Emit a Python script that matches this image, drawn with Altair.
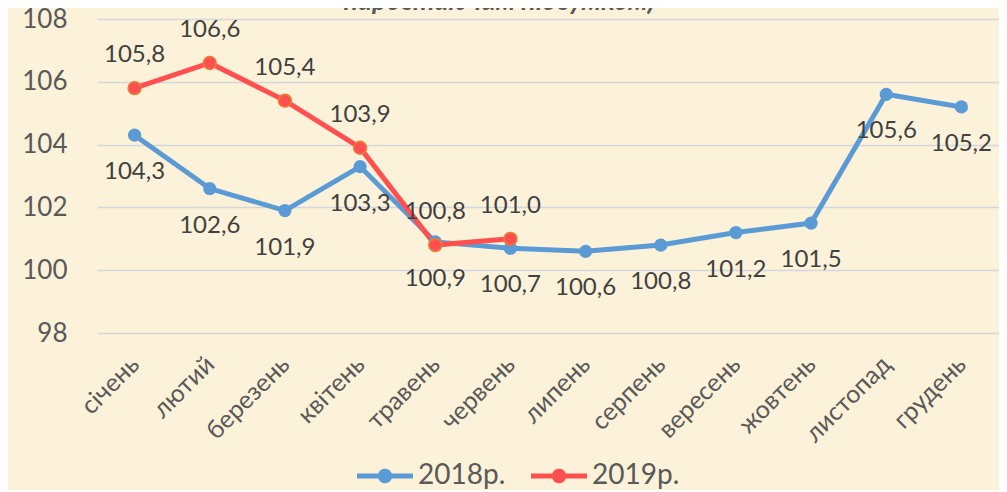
import math
import altair as alt
import pandas as pd

months = ["січень", "лютий", "березень", "квітень", "травень", "червень",
          "липень", "серпень", "вересень", "жовтень", "листопад", "грудень"]
v2018 = [104.3, 102.6, 101.9, 103.3, 100.9, 100.7, 100.6, 100.8, 101.2, 101.5, 105.6, 105.2]
v2019 = [105.8, 106.6, 105.4, 103.9, 100.8, 101.0]
series = ["2018р.", "2019р."]
colors = ["#5B9BD5", "#FF4F4F"]
y_ticks = [98, 100, 102, 104, 106, 108]
title_text = "наростаючим підсумком)"

rows = []
for s, vals in zip(series, [v2018, v2019]):
    for m, v in zip(months, vals):
        rows.append({"month": m, "value": v, "series": s,
                     "label": f"{v:.1f}".replace(".", ",")})
df = pd.DataFrame(rows)

FONT = "Lato"

# legend symbol: a thick line with a dot in the middle (unit coordinates)
r = 0.26
poly = "".join(
    ("M" if i == 0 else "L") + f"{r*math.cos(2*math.pi*i/20):.3f},{r*math.sin(2*math.pi*i/20):.3f}"
    for i in range(20)) + "Z"
legend_path = "M-1,-0.09L1,-0.09L1,0.09L-1,0.09Z" + poly

x = alt.X("month:N", sort=months,
          scale=alt.Scale(type="point", padding=0.5),
          axis=alt.Axis(title=None, labelAngle=-45, labelAlign="right",
                        labelBaseline="middle", labelFontSize=25,
                        labelColor="#595959", labelPadding=27, labelFont=FONT,
                        domain=False, ticks=False, grid=False))
y = alt.Y("value:Q",
          scale=alt.Scale(domain=[98, 108], nice=False, zero=False),
          axis=alt.Axis(title=None, values=y_ticks, grid=True,
                        gridColor="#D3D6DC", gridWidth=1.5, domain=False,
                        ticks=False, labelFontSize=26, labelColor="#595959",
                        labelPadding=30, labelFont=FONT))

base = alt.Chart(df)

color_scale = alt.Scale(domain=series, range=colors)

lines = base.mark_line(strokeWidth=5).encode(
    x=x, y=y,
    color=alt.Color("series:N", scale=color_scale,
                    legend=alt.Legend(title=None, orient="none", direction="horizontal",
                                      legendX=260, legendY=429,
                                      symbolType=legend_path, symbolSize=3136,
                                      symbolStrokeWidth=0,
                                      symbolFillColor="#5B9BD5",
                                      labelFontSize=28, labelColor="#595959",
                                      labelFont=FONT, labelOffset=5,
                                      columnPadding=25, padding=0)))

points = base.mark_point(filled=True, size=175, opacity=1).encode(
    x=x, y=y, color=alt.Color("series:N", scale=color_scale))

outline = base.transform_filter(alt.datum.series == series[1]).mark_point(
    filled=False, size=165, stroke="#ED7D31", strokeWidth=1.5, opacity=1
).encode(x=x, y=y)

lab18 = base.transform_filter(alt.datum.series == series[0]).mark_text(
    dy=37, fontSize=24, color="#404040", font=FONT
).encode(x=x, y=y, text="label:N")

lab19 = base.transform_filter(alt.datum.series == series[1]).mark_text(
    dy=-33, fontSize=24, color="#404040", font=FONT
).encode(x=x, y=y, text="label:N")

title = alt.Chart(pd.DataFrame({"t": [title_text]})).mark_text(
    fontSize=27, fontStyle="italic", fontWeight="bold", color="#595959",
    font=FONT, baseline="alphabetic", align="center"
).encode(x=alt.value(402), y=alt.value(-9), text="t:N")

chart = alt.layer(lines, points, outline, lab18, lab19, title).properties(
    width=902, height=314,
    autosize=alt.AutoSizeParams(type="none"),
    padding={"left": 89, "top": 11, "right": 0, "bottom": 157},
    background="#FCF2DA"
).configure_view(stroke=None)

chart.save("out.html", embed_options={"renderer": "svg", "actions": False})
